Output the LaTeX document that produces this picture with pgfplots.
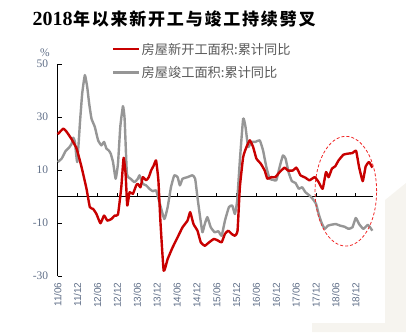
\documentclass[border=0pt]{standalone}
\usepackage{graphicx}
\usepackage{pgfplots}
\pgfplotsset{compat=1.18}
\usepackage{fontspec}
\setmainfont{Liberation Serif}
\newfontfamily\cjk{Noto Sans CJK SC}
\newfontfamily\lsans{Liberation Sans}
\definecolor{myred}{RGB}{200,0,0}
\definecolor{mygray}{RGB}{150,150,150}
\definecolor{tickc}{RGB}{95,110,135}
\definecolor{legt}{RGB}{89,89,89}
\definecolor{bgc}{RGB}{246,244,239}
\definecolor{ellc}{RGB}{240,40,40}
\newcommand\tc[1]{\makebox[18.8pt][l]{#1}}

\pgfplotstableread{
m v
0 23.5
1.7 25.6
2.7 24.4
4.2 21.6
5.7 18.1
7.2 11.1
8.7 2.9
9.7 -4.0
10.7 -4.7
11.7 -6.6
12.9 -10.1
14 -7.2
15 -9.1
16.2 -8.5
17.2 -7.2
18.2 -6.8
19.2 3.5
19.9 14.6
20.5 8.6
21 -3.4
21.7 1.6
22.7 1.0
23.7 4.2
24.2 4.8
25 3.5
25.7 7.3
26.7 6.1
27.5 7.3
28.2 9.8
29 11.7
29.7 13.6
30.4 6.1
31 -9.1
32 -28
33.2 -23.6
34.7 -19.2
36.2 -15.4
37.7 -11.6
39.2 -9.1
40 -5.9
41 -10.4
42.2 -12.9
43.2 -17.3
44.4 -18.6
45.7 -17.3
47.2 -16
48.5 -16.7
49.5 -17.3
50.5 -14.1
51.5 -12.9
52.5 -14.1
53.5 -14.8
54.3 -12.9
55 3.5
56 14.9
57 18.7
58 21.2
59 18.7
60 14.3
61.3 12.4
62.5 9.8
63.3 6.7
64.5 7.3
65.7 7.3
67 9.2
68.5 10.9
69.5 9.8
71 9.8
72 10.9
72.6 9.8
73.3 8
74.8 7.1
76 6.1
77.6 7.3
78.8 5.4
80 2.9
81 9.2
81.8 7.3
82.8 10.5
83.8 11.4
84.8 13.6
86.3 15.8
87.8 16.2
89 16.4
90.1 17.2
91 11.1
92.1 5.8
93 11.4
94 13
95 10.9
}\newstarts

\pgfplotstableread{
m v
0 13
1.2 14.3
2.4 17.2
3.4 18.4
4.2 19.9
4.7 22.2
5.2 20.6
5.9 13
6.7 27.5
7.4 38.9
8.2 45.8
8.9 41.4
9.5 35.1
10.2 29.4
11.2 26.3
12.2 21.2
13.2 19.3
14 20.6
14.7 18.1
15.4 17.4
16 16.2
16.7 13
17.5 6.7
18.2 12.4
18.9 26.3
19.7 34.1
20.2 29.4
20.9 8.6
22 6.7
23.2 5.4
24.2 6.7
24.7 8
25.7 4.8
26.7 4.2
27.7 2.9
28.7 2.0
29.7 2.3
30.7 -2.1
32.2 -8.5
33.2 -4
34.2 3.5
35.2 8
36.2 7.3
36.9 4.2
37.7 6.7
39.2 7.3
40.7 8
41.5 6.7
42.2 -0.3
43 -7.8
43.7 -13.5
44.4 -10.4
45.2 -7.8
46.2 -11.6
47.4 -13.5
48.5 -13.1
49.5 -14.8
50.5 -9.1
51.7 -4
52.7 -3.4
53.5 -6.6
54.2 -1.5
55 13.6
56 29.4
56.7 26.3
57.5 18.7
58.5 20.6
59.7 20.6
61 21.2
62 17.4
63 11.1
64 6.7
65 6.3
66 6.1
67 11.1
68 15.5
68.8 14.3
69.7 9.2
70.7 5.8
71.8 5.1
72.8 2.9
73.8 3.5
74.8 1.6
76 0.4
77 -0.9
78 -2.8
78.8 -6.6
79.6 -9.7
80.6 -12.2
81.6 -11
82.8 -10.6
84 -10.4
85.3 -11
86.6 -11.4
87.8 -12.2
89 -11.6
90 -8.1
91 -10.4
92.3 -12.2
93.6 -10.7
94.3 -11.6
95 -12.9
}\completions

\begin{document}
\begin{tikzpicture}[x=1pt,y=1pt]
\path[use as bounding box] (0,0) rectangle (406,332);
\fill[bgc] (385,132) -- (406,149) -- (406,0) -- (312,0) -- (312,9) -- (385,9) -- cycle;
\begin{axis}[
  at={(57.7pt,56pt)}, anchor=south west,
  scale only axis, width=315.3pt, height=212pt,
  xmin=0, xmax=95.2, ymin=-30, ymax=50,
  axis x line*=bottom, axis y line*=left,
  x axis line style={draw=none},
  y axis line style={black, line width=0.8pt},
  xtick={0,6,...,90},
  xticklabels={11/06,11/12,12/06,12/12,13/06,13/12,14/06,14/12,15/06,15/12,16/06,16/12,17/06,17/12,18/06,18/12},
  xtick style={draw=none},
  ytick={-30,-10,10,30,50},
  ytick style={black, line width=0.8pt},
  tick align=inside, major tick length=4pt,
  /pgf/number format/assume math mode=true,
  xticklabel style={rotate=90, anchor=east, font=\lsans\fontsize{10}{10}\selectfont, text=tickc, xshift=-3pt},
  yticklabel style={font=\fontsize{11.5}{12}\selectfont, text=tickc, xshift=-6pt},
  clip=false,
]
\draw[black, line width=0.8pt] (axis cs:0,0) -- (axis cs:95.2,0);
\pgfplotsinvokeforeach{6,12,...,90}{\draw[black, line width=0.8pt] (axis cs:#1,0) -- (axis cs:#1,1.5);}
\addplot[mygray, line width=2.4pt, line join=round, smooth, tension=0.25] table[x=m,y=v] {\completions};
\addplot[myred, line width=2.4pt, line join=round, smooth, tension=0.25] table[x=m,y=v] {\newstarts};
\draw[ellc, line width=0.8pt, dash pattern=on 3pt off 2pt] (axis cs:87,2) ellipse [x radius=9.3, y radius=20.7];
\end{axis}
\node[anchor=base west, inner sep=0pt] at (32.3,306) {\fontsize{20}{20}\selectfont\bfseries 2018\hspace{0.5pt}\cjk\fontsize{17}{17}\selectfont\bfseries\tc{年}\tc{以}\tc{来}\tc{新}\tc{开}\tc{工}\tc{与}\tc{竣}\tc{工}\tc{持}\tc{续}\tc{劈}\tc{叉}};
\node[text=tickc, inner sep=0pt] at (45,279) {\fontsize{11.5}{12}\selectfont\%};
\draw[myred, line width=2.6pt] (113,283) -- (139,283);
\node[anchor=west, inner sep=0pt, text=legt] at (141.5,283) {\cjk\fontsize{13.2}{14}\selectfont 房屋新开工面积:累计同比};
\draw[mygray, line width=2.6pt] (113,259.3) -- (139,259.3);
\node[anchor=west, inner sep=0pt, text=legt] at (141.5,259.3) {\cjk\fontsize{13.2}{14}\selectfont 房屋竣工面积:累计同比};
\end{tikzpicture}
\end{document}
